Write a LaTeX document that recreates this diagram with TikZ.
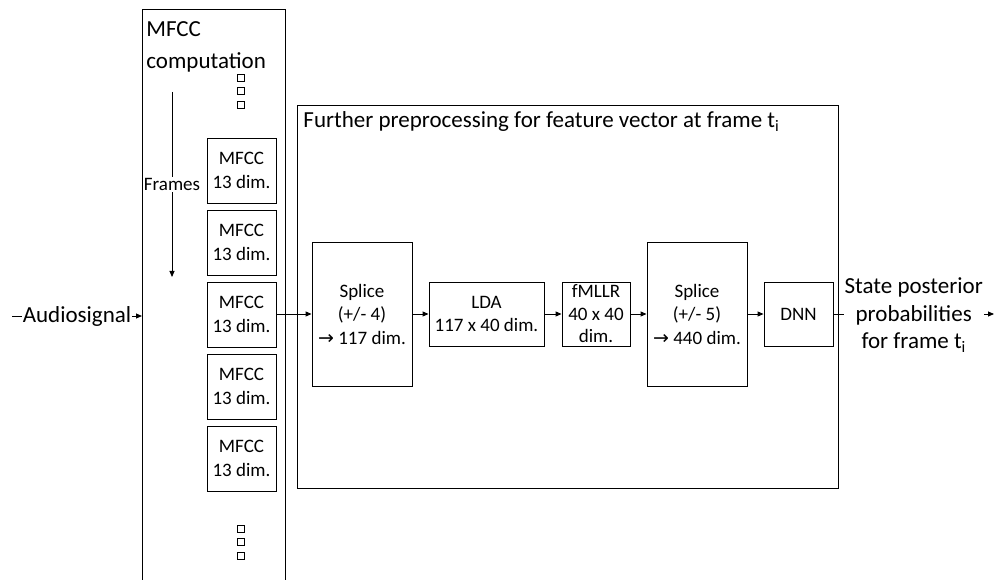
\documentclass[tikz,border=0pt]{standalone}
\usepackage{fontspec}
\setmainfont{Carlito}
\newfontfamily\symf{DejaVu Sans}
\usetikzlibrary{arrows.meta}
\begin{document}
\begin{tikzpicture}[x=1pt,y=-1pt,
  line width=0.9pt,
  big/.style={font=\fontsize{23}{27.5}\selectfont},
  small/.style={font=\fontsize{19}{23.5}\selectfont},
  box/.style={draw=black, line width=0.9pt, inner sep=0pt, align=center, small},
  arr/.style={-{Triangle[length=6pt,width=5pt]}, line width=0.9pt},
  sq/.style={draw=black, line width=0.6pt, minimum width=7pt, minimum height=7pt, inner sep=0pt}
]
\useasboundingbox (0,0) rectangle (999,580);

% MFCC computation panel (open at bottom)
\draw (142,582) -- (142,9) -- (285,9) -- (285,582);
\node[font=\fontsize{23}{32}\selectfont, anchor=base west, align=left, inner sep=0pt] (mctitle) at (146,36.5)
  {MFCC};
\node[font=\fontsize{23}{32}\selectfont, anchor=base west, align=left, inner sep=0pt] (mctitle2) at (146,68.5)
  {computation};

% dots
\node[sq] (d1) at (241,77.5) {};
\node[sq] (d2) at (241,91) {};
\node[sq] (d3) at (241,104.5) {};
\node[sq] (d4) at (241,528.5) {};
\node[sq] (d5) at (241,542) {};
\node[sq] (d6) at (241,556) {};

% Frames arrow
\coordinate (f1) at (172,92);
\coordinate (f2) at (172,277);
\draw[arr] (f1) -- node[pos=0.5, fill=white, small, inner sep=1pt] {Frames} (f2);

% MFCC boxes
\foreach \i/\y in {1/170.5,2/242.5,3/314.5,4/386.5,5/458.5}{
  \node[box, minimum width=69pt, minimum height=65pt] (m\i) at (241.5,\y) {MFCC\\13 dim.};
}

% Further preprocessing panel
\node[draw=black, line width=0.9pt, minimum width=541pt, minimum height=383pt, inner sep=0pt] (fp) at (567.5,296.5) {};
\node[big, anchor=base west, inner sep=0pt] (fptitle) at (303,128)
  {Further preprocessing for feature vector at frame t\textsubscript{i}};

% processing boxes
\node[box, minimum width=100pt, minimum height=144pt] (sp1) at (362,314)
  {Splice\\(+/- 4)\\{\symf →} 117 dim.};
\node[box, minimum width=115pt, minimum height=64pt] (lda) at (486.5,314)
  {LDA\\117 x 40 dim.};
\node[box, minimum width=68pt, minimum height=64pt, font=\fontsize{19}{22.5}\selectfont] (fm) at (596,314)
  {fMLLR\\40 x 40\\dim.};
\node[box, minimum width=100pt, minimum height=144pt] (sp2) at (697,314)
  {Splice\\(+/- 5)\\{\symf →} 440 dim.};
\node[box, minimum width=69pt, minimum height=64pt] (dnn) at (798.5,314)
  {DNN};

% connectors
\draw[arr] (m3.east |- sp1.west) -- (sp1.west);
\draw[arr] (sp1.east) -- (lda.west);
\draw[arr] (lda.east) -- (fm.west);
\draw[arr] (fm.east) -- (sp2.west);
\draw[arr] (sp2.east) -- (dnn.west);

% input
\coordinate (as) at (12,316);
\coordinate (mc) at (142,316);
\draw[arr] (as) -- node[fill=white, big, inner sep=1pt] {Audiosignal} (mc);

% output
\coordinate (out) at (994,314);
\draw[arr] (dnn.east) -- node[fill=white, big, align=center, inner sep=1pt, yshift=-1pt] {State posterior\\probabilities\\for frame t\textsubscript{i}} (out);
\end{tikzpicture}
\end{document}
